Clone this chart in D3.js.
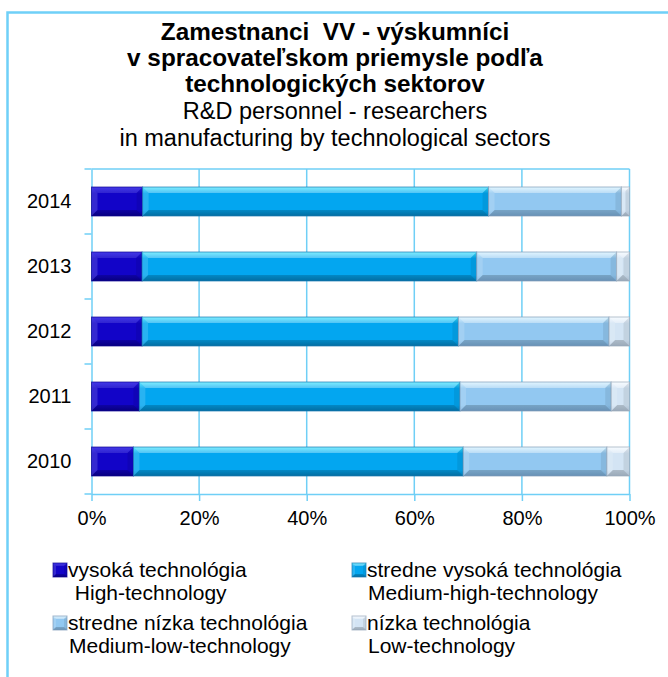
<!DOCTYPE html>
<html>
<head>
<meta charset="utf-8">
<script src="https://cdn.jsdelivr.net/npm/d3@7"></script>
<style>
  body { margin: 0; background: #fff; }
  svg text { font-family: "Liberation Sans", Arial, sans-serif; fill: #000; white-space: pre; }
</style>
</head>
<body>
<script>
// shares of researchers (%)
var years = ["2010", "2011", "2012", "2013", "2014"];
var highTech = [7.8, 8.9, 9.4, 9.4, 9.5];
var mediumHigh = [61.3, 59.6, 58.8, 62.2, 64.3];
var mediumLow = [26.7, 28.1, 28.0, 26.0, 24.7];
var lowTech = [4.2, 3.4, 3.8, 2.4, 1.5];
var xTicks = [0, 20, 40, 60, 80, 100];

var seriesKeys = ["high", "mhigh", "mlow", "low"];
var seriesSk = ["vysoká technológia", "stredne vysoká technológia", "stredne nízka technológia", "nízka technológia"];
var seriesEn = [" High-technology", "Medium-high-technology", "Medium-low-technology", "Low-technology"];

var titleBold = ["Zamestnanci  VV - výskumníci", "v spracovateľskom priemysle podľa", "technologických sektorov"];
var titleNormal = ["R&D personnel - researchers", "in manufacturing by technological sectors"];

// colors: [highlight, base, dark, outline]
var colors = {
  high:  ["#2a1ee6", "#1204c8", "#0a009c", "#0c0490"],
  mhigh: ["#45e6ff", "#03a6f0", "#0386c6", "#1a78b0"],
  mlow:  ["#d2f1ff", "#92c8f1", "#7fb2de", "#7d9ab8"],
  low:   ["#f4f9ff", "#d3e4f4", "#bccfe2", "#98a9ba"]
};
var topLight = {high: 0.12, mhigh: 0.3, mlow: 0.35, low: 0.35};

var rows = years.map(function(y, i) {
  return {year: y, high: highTech[i], mhigh: mediumHigh[i], mlow: mediumLow[i], low: lowTech[i]};
});

var W = 668, H = 677;
var svg = d3.select("body").append("svg")
    .attr("width", W).attr("height", H);

var defs = svg.append("defs");
seriesKeys.forEach(function(k) {
  var g = defs.append("linearGradient").attr("id", "g-" + k)
      .attr("x1", 0).attr("y1", 0).attr("x2", 0).attr("y2", 1);
  g.append("stop").attr("offset", "0%").attr("stop-color", colors[k][0]);
  g.append("stop").attr("offset", "22%").attr("stop-color", colors[k][1]);
  g.append("stop").attr("offset", "80%").attr("stop-color", colors[k][1]);
  g.append("stop").attr("offset", "100%").attr("stop-color", colors[k][2]);
});

// outer frame
svg.append("rect")
    .attr("x", 7.5).attr("y", 12.5)
    .attr("width", 700).attr("height", 700)
    .attr("fill", "#fff")
    .attr("stroke", "#6fd0f8").attr("stroke-width", 2.5);

// title
var title = svg.append("g").attr("text-anchor", "middle");
var titleY = [40, 66, 92, 119, 146];
titleBold.concat(titleNormal).forEach(function(t, i) {
  title.append("text")
      .attr("x", 335).attr("y", titleY[i])
      .style("font-size", i < 3 ? "24.3px" : "23.5px")
      .style("font-weight", i < 3 ? "bold" : "normal")
      .text(t);
});

var x = d3.scaleLinear().domain([0, 100]).range([91.5, 629.5]);
var y = d3.scaleBand().domain(years.slice().reverse())
    .range([169, 494]).paddingInner(0.554).paddingOuter(0.277);

var gridColor = "#6fcff6";

// gridlines + plot border
svg.append("g").selectAll("line")
  .data(xTicks.slice(1))
  .enter().append("line")
    .attr("x1", function(d) { return x(d); }).attr("x2", function(d) { return x(d); })
    .attr("y1", 169).attr("y2", 494)
    .attr("stroke", gridColor).attr("stroke-width", 1.5);
svg.append("line")
    .attr("x1", x(0)).attr("x2", x(100)).attr("y1", 169).attr("y2", 169)
    .attr("stroke", gridColor).attr("stroke-width", 1.5);

// axes
var xAxis = d3.axisBottom(x).tickValues(xTicks)
    .tickFormat(function(d) { return d + "%"; })
    .tickSize(7).tickPadding(10).tickSizeOuter(0);
var gx = svg.append("g").attr("transform", "translate(0,494)").call(xAxis);
gx.selectAll("text").style("font-size", "20px");

var yAxis = d3.axisLeft(y).tickSize(0).tickPadding(20);
var gy = svg.append("g").attr("transform", "translate(91.5,0)").call(yAxis);
gy.selectAll("text").style("font-size", "20px");
// category boundary ticks
var bounds = d3.range(years.length + 1).map(function(i) { return 169 + i * y.step(); });
gy.selectAll(".bound").data(bounds).enter().append("line")
    .attr("class", "bound")
    .attr("x1", -7).attr("x2", 0)
    .attr("y1", function(d) { return d; }).attr("y2", function(d) { return d; });
svg.selectAll(".domain, .tick line, .bound")
    .attr("stroke", gridColor).attr("stroke-width", 1.5);

// beveled box
function bevelBox(g, x0, y0, w, h, k, b) {
  g.append("rect").attr("x", x0).attr("y", y0).attr("width", w).attr("height", h)
      .attr("fill", "url(#g-" + k + ")");
  b = Math.min(b, w / 2, h / 2);
  var faces = [
    [[x0, y0], [x0 + w, y0], [x0 + w - b, y0 + b], [x0 + b, y0 + b], "#fff", topLight[k]],
    [[x0, y0 + h], [x0 + w, y0 + h], [x0 + w - b, y0 + h - b], [x0 + b, y0 + h - b], "#000", 0.18],
    [[x0, y0], [x0 + b, y0 + b], [x0 + b, y0 + h - b], [x0, y0 + h], "#fff", 0.15],
    [[x0 + w, y0], [x0 + w - b, y0 + b], [x0 + w - b, y0 + h - b], [x0 + w, y0 + h], "#000", 0.08]
  ];
  faces.forEach(function(f) {
    g.append("polygon")
        .attr("points", f.slice(0, 4).map(function(p) { return p.join(","); }).join(" "))
        .attr("fill", f[4]).attr("fill-opacity", f[5]);
  });
  g.append("rect").attr("x", x0).attr("y", y0).attr("width", w).attr("height", h)
      .attr("fill", "none").attr("stroke", colors[k][3]).attr("stroke-width", 1).attr("stroke-opacity", 0.7);
}

var stack = d3.stack().keys(seriesKeys)(rows);
var bars = svg.append("g");
stack.forEach(function(layer) {
  layer.forEach(function(d) {
    var g = bars.append("g");
    bevelBox(g, x(d[0]), y(d.data.year), x(d[1]) - x(d[0]), y.bandwidth(), layer.key, 6);
  });
});

// legend
var legend = svg.append("g");
var colX = [53, 352], rowY = [563, 616];
seriesKeys.forEach(function(k, i) {
  var lx = colX[i % 2], ly = rowY[Math.floor(i / 2)];
  var g = legend.append("g");
  bevelBox(g, lx, ly, 14, 14, k, 3);
  g.append("text").attr("x", lx + 15).attr("y", ly + 14)
      .style("font-size", "21px").text(seriesSk[i]);
  g.append("text").attr("x", lx + 16).attr("y", ly + 37)
      .style("font-size", "21px").text(seriesEn[i]);
});
</script>
</body>
</html>
